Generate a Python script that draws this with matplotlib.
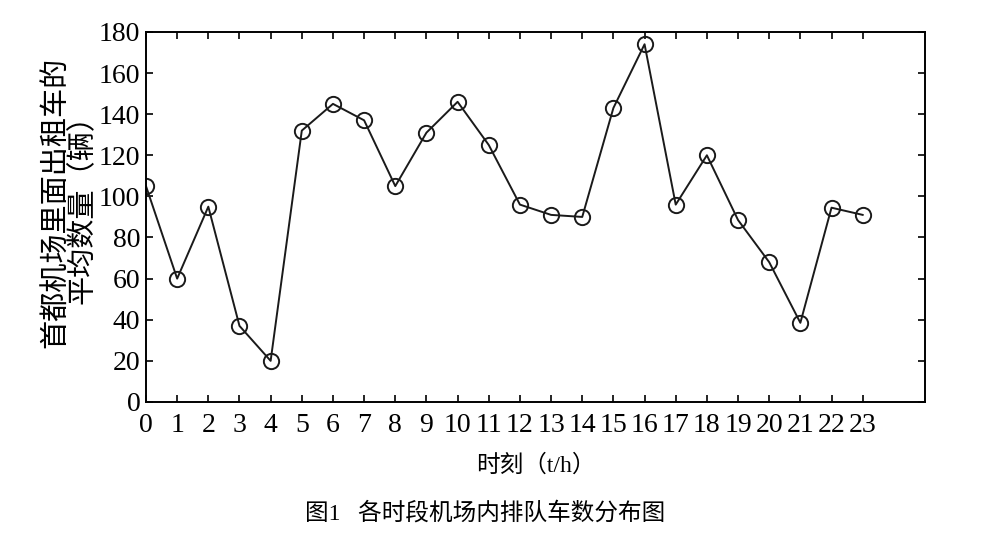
import matplotlib
matplotlib.use("Agg")
from matplotlib import pyplot as plt

hours = list(range(24))
taxis = [105, 60, 95, 37, 20, 132, 145, 137, 105, 131, 146, 125,
         96, 91, 90, 143, 174, 96, 120, 88.5, 68, 38.5, 94.5, 91]
y_ticks = [0, 20, 40, 60, 80, 100, 120, 140, 160, 180]

plt.rcParams["font.family"] = ["Liberation Serif", "Noto Sans CJK SC"]

fig = plt.figure(figsize=(10, 5.41), dpi=100)
ax = fig.add_axes([0.146, 0.257, 0.779, 0.684])
ax.plot(hours, taxis, color="#1a1a1a", linewidth=1.4, marker="o",
        markersize=11, markerfacecolor="none", markeredgewidth=1.4)
ax.set_xlim(0, 25)
ax.set_ylim(0, 180)
ax.set_xticks(hours)
ax.set_yticks(y_ticks)
ax.tick_params(direction="in", top=True, right=True, length=5, width=1.2,
               labelsize=20, pad=4)
ax.tick_params(axis="x", pad=8)
for s in ax.spines.values():
    s.set_linewidth(1.4)
ax.set_xlabel("时刻（t/h）", fontsize=17, labelpad=12)
ax.set_ylabel("首都机场里面出租车的\n平均数量（辆）", fontsize=21,
              linespacing=1.0)
ax.yaxis.set_label_coords(-0.063, 0.54)
fig.text(0.485, 0.04, "图1   各时段机场内排队车数分布图", fontsize=17,
         ha="center")
fig.savefig("out.png", dpi=100)
